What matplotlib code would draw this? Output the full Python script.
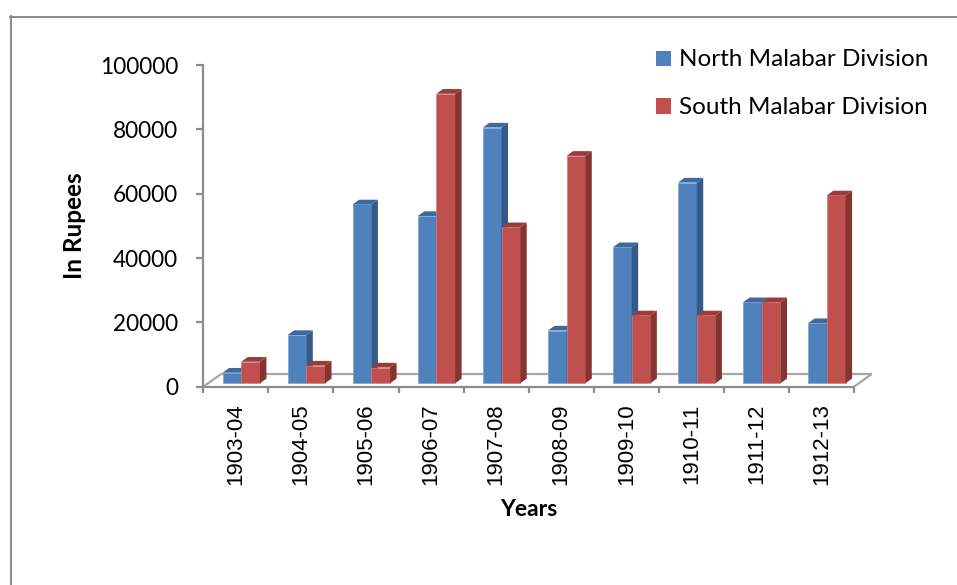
import matplotlib
matplotlib.use("Agg")
import matplotlib.pyplot as plt
import matplotlib.transforms as mtransforms
from matplotlib.patches import Polygon, Rectangle
from matplotlib.lines import Line2D

# Revenue figures for the two Malabar divisions, in rupees
years = ["1903-04", "1904-05", "1905-06", "1906-07", "1907-08",
         "1908-09", "1909-10", "1910-11", "1911-12", "1912-13"]
north = [3300, 15000, 55600, 52000, 79500, 16400, 42300, 62400, 25200, 18700]
south = [6700, 5500, 4900, 90000, 48500, 70700, 21100, 21100, 25200, 58400]
series_names = ["North Malabar Division", "South Malabar Division"]
y_ticks = [0, 20000, 40000, 60000, 80000, 100000]

DPI = 100
W, H = 957, 585
fig = plt.figure(figsize=(W / DPI, H / DPI), dpi=DPI)
fig.patch.set_facecolor("white")

# plot area in pixel terms (front plane of the 3-D box)
ax_l, ax_r, ax_t, ax_b = 203.3, 854.0, 65.0, 386.7
ax = fig.add_axes([ax_l / W, 1 - ax_b / H, (ax_r - ax_l) / W, (ax_b - ax_t) / H])
ax.set_xlim(-0.5, len(years) - 0.5)
ax.set_ylim(0, 100000)
ax.patch.set_alpha(0)

px_x = (ax_r - ax_l) / len(years)      # pixels per category
px_y = (ax_b - ax_t) / 100000          # pixels per rupee

# bars sit a little behind the front plane
shift = mtransforms.ScaledTranslation(5.4 / DPI, 3.4 / DPI, fig.dpi_scale_trans)
bar_tr = ax.transData + shift

bw = 18.7 / px_x                        # bar width in category units
ddx = 6.5 / px_x                        # depth of a column, x direction
ddy = 4.7 / px_y                        # depth of a column, y direction

styles = [
    dict(front="#4F81BD", side="#345A8A", top="#3D68A0", edge="#7EA2D3"),
    dict(front="#C0504D", side="#853431", top="#9A3B39", edge="#D47F7C"),
]

z = 3
for i in range(len(years)):
    for k, vals in enumerate([north, south]):
        st = styles[k]
        h = vals[i]
        x0 = i - bw + k * bw
        x1 = x0 + bw
        ax.add_patch(Rectangle((x0, 0), bw, h, facecolor=st["front"],
                               edgecolor=st["edge"], linewidth=0.5,
                               transform=bar_tr, zorder=z))
        ax.add_patch(Polygon([(x1, 0), (x1 + ddx, ddy), (x1 + ddx, h + ddy), (x1, h)],
                             closed=True, facecolor=st["side"], edgecolor="none",
                             transform=bar_tr, zorder=z + 0.1))
        ax.add_patch(Polygon([(x0, h), (x0 + ddx, h + ddy), (x1 + ddx, h + ddy), (x1, h)],
                             closed=True, facecolor=st["top"], edgecolor="none",
                             transform=bar_tr, zorder=z + 0.2))
        z += 1

# floor outline
axis_gray = "#8C8C8C"
floor_gray = "#A6A6A6"
fdx, fdy = 17.5 / (ax_r - ax_l), 12.5 / (ax_b - ax_t)
for xs, ys, c in [([0, 1], [0, 0], axis_gray),
                  ([fdx, 1 + fdx], [fdy, fdy], floor_gray),
                  ([0, fdx], [0, fdy], floor_gray),
                  ([1, 1 + fdx], [0, fdy], floor_gray)]:
    ax.add_line(Line2D(xs, ys, transform=ax.transAxes, color=c, lw=1.6,
                       clip_on=False, zorder=2, solid_capstyle="butt"))

for s in ["top", "right", "bottom"]:
    ax.spines[s].set_visible(False)
ax.spines["left"].set_color(axis_gray)
ax.spines["left"].set_linewidth(1.6)

ax.set_yticks(y_ticks)
ax.set_yticklabels([str(v) for v in y_ticks], fontfamily="Lato", fontsize=16.3)
ax.tick_params(axis="y", direction="out", length=4.8, width=1.6, color=axis_gray,
               pad=13.5, labelcolor="black")

ax.set_xticks(range(len(years)))
ax.set_xticklabels(years, rotation=90, fontfamily="Liberation Sans", fontsize=16)
ax.set_xticks([i - 0.5 for i in range(len(years) + 1)], minor=True)
ax.tick_params(axis="x", which="major", length=0, pad=12)
ax.tick_params(axis="x", which="minor", direction="out", length=4.3, width=1.6,
               color=axis_gray)

fig.text(529 / W, 1 - 516.5 / H, "Years", ha="center", va="baseline",
         fontfamily="Lato", fontweight="bold", fontsize=16.5)
fig.text(75 / W, 1 - 226 / H, "In Rupees", ha="center", va="center", rotation=90,
         fontfamily="Lato", fontweight="bold", fontsize=17.5)

# legend
for k, (name, base) in enumerate(zip(series_names, [66.0, 113.5])):
    fig.add_artist(Rectangle((656 / W, 1 - base / H), 15 / W, 15 / H,
                             transform=fig.transFigure, facecolor=styles[k]["front"],
                             edgecolor="none"))
    fig.text(679 / W, 1 - base / H, name, ha="left", va="baseline",
             fontfamily="Lato", fontsize=17.5)

# chart border
fig.add_artist(Line2D([10.5 / W, 10.5 / W], [1 - 16 / H, 0], transform=fig.transFigure,
                      color="#8A8A8A", lw=1.4))
fig.add_artist(Line2D([10 / W, 1], [1 - 16.5 / H, 1 - 16.5 / H], transform=fig.transFigure,
                      color="#8A8A8A", lw=1.4))

fig.savefig("out.png", dpi=DPI)
